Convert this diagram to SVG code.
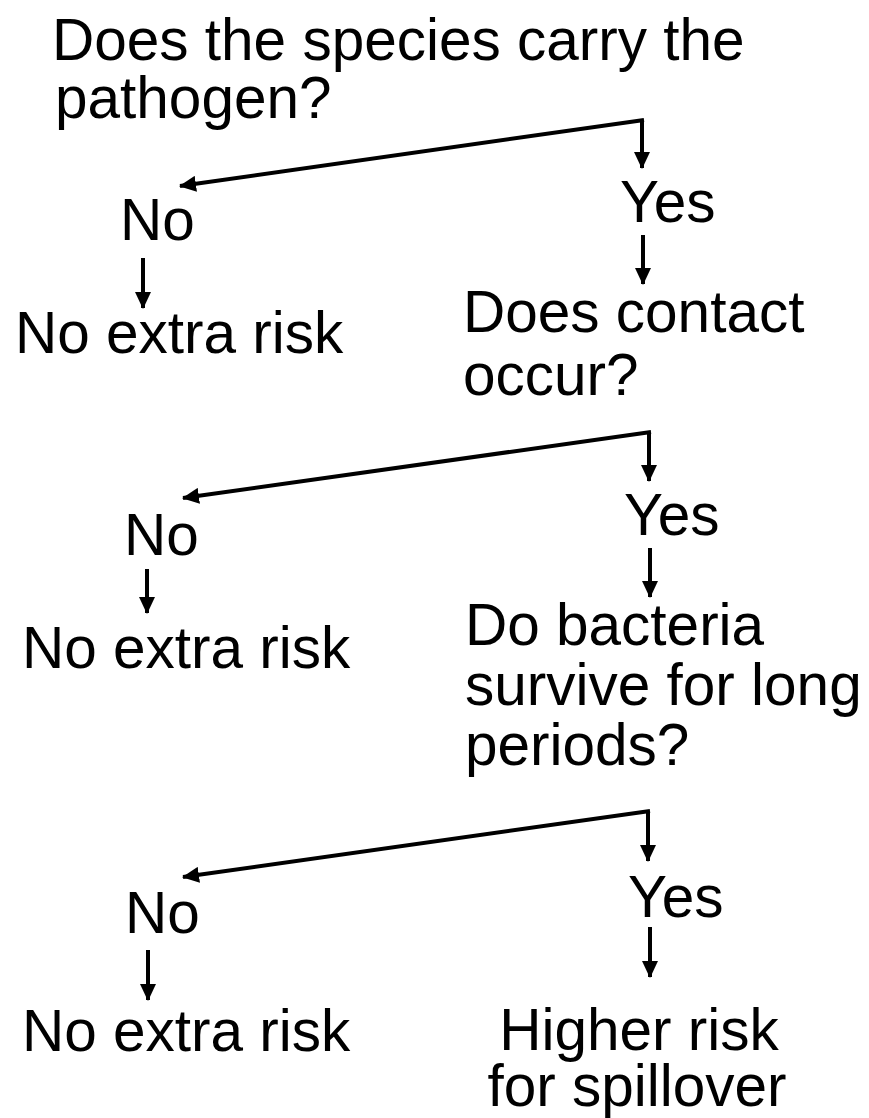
<svg xmlns="http://www.w3.org/2000/svg" width="869" height="1118" viewBox="0 0 869 1118">
<style>
text{font-family:"Liberation Sans",Arial,sans-serif;font-size:58.5px;fill:#000}
.c{text-anchor:middle}
.big{fill:none;stroke:#000;stroke-width:4}
.sm{fill:none;stroke:#000;stroke-width:4}
</style>
<defs>
<marker id="ah" markerUnits="userSpaceOnUse" markerWidth="17" markerHeight="16" viewBox="0 0 17 16" refX="16" refY="8" orient="auto">
<path d="M0,0 L17,8 L0,16 Z" fill="#000"/>
</marker>
</defs>
<rect width="869" height="1118" fill="#fff"/>
<g id="q1"><text x="52" y="60">Does the species carry the</text><text x="55" y="118">pathogen?</text></g>
<g id="no1"><text x="120" y="240">No</text></g>
<g id="yes1"><text x="620" y="222">Yes</text></g>
<g id="r1"><text x="15" y="353">No extra risk</text></g>
<g id="q2"><text x="463" y="332">Does contact</text><text x="463" y="395">occur?</text></g>
<g id="no2"><text x="124" y="555">No</text></g>
<g id="yes2"><text x="624" y="535">Yes</text></g>
<g id="r2"><text x="22" y="668">No extra risk</text></g>
<g id="q3"><text x="465" y="645">Do bacteria</text><text x="465" y="705">survive for long</text><text x="465" y="765">periods?</text></g>
<g id="no3"><text x="125" y="933">No</text></g>
<g id="yes3"><text x="628" y="917">Yes</text></g>
<g id="r3"><text x="22" y="1051">No extra risk</text></g>
<g id="res"><text class="c" x="639" y="1050">Higher risk</text><text class="c" x="637" y="1106">for spillover</text></g>
<g id="connectors">
<path class="big" d="M642,120 L642,168" marker-end="url(#ah)"/>
<path class="big" d="M644,120 L180,186" marker-end="url(#ah)"/>
<path class="sm" d="M143,258 L143,308" marker-end="url(#ah)"/>
<path class="sm" d="M643,235 L643,284" marker-end="url(#ah)"/>
<path class="big" d="M649,432 L649,481" marker-end="url(#ah)"/>
<path class="big" d="M651,432 L183,498" marker-end="url(#ah)"/>
<path class="sm" d="M147,569 L147,613" marker-end="url(#ah)"/>
<path class="sm" d="M650,548 L650,597" marker-end="url(#ah)"/>
<path class="big" d="M648,811 L648,861" marker-end="url(#ah)"/>
<path class="big" d="M650,811 L183,877" marker-end="url(#ah)"/>
<path class="sm" d="M148,950 L148,1000" marker-end="url(#ah)"/>
<path class="sm" d="M650,927 L650,977" marker-end="url(#ah)"/>
</g>
</svg>
